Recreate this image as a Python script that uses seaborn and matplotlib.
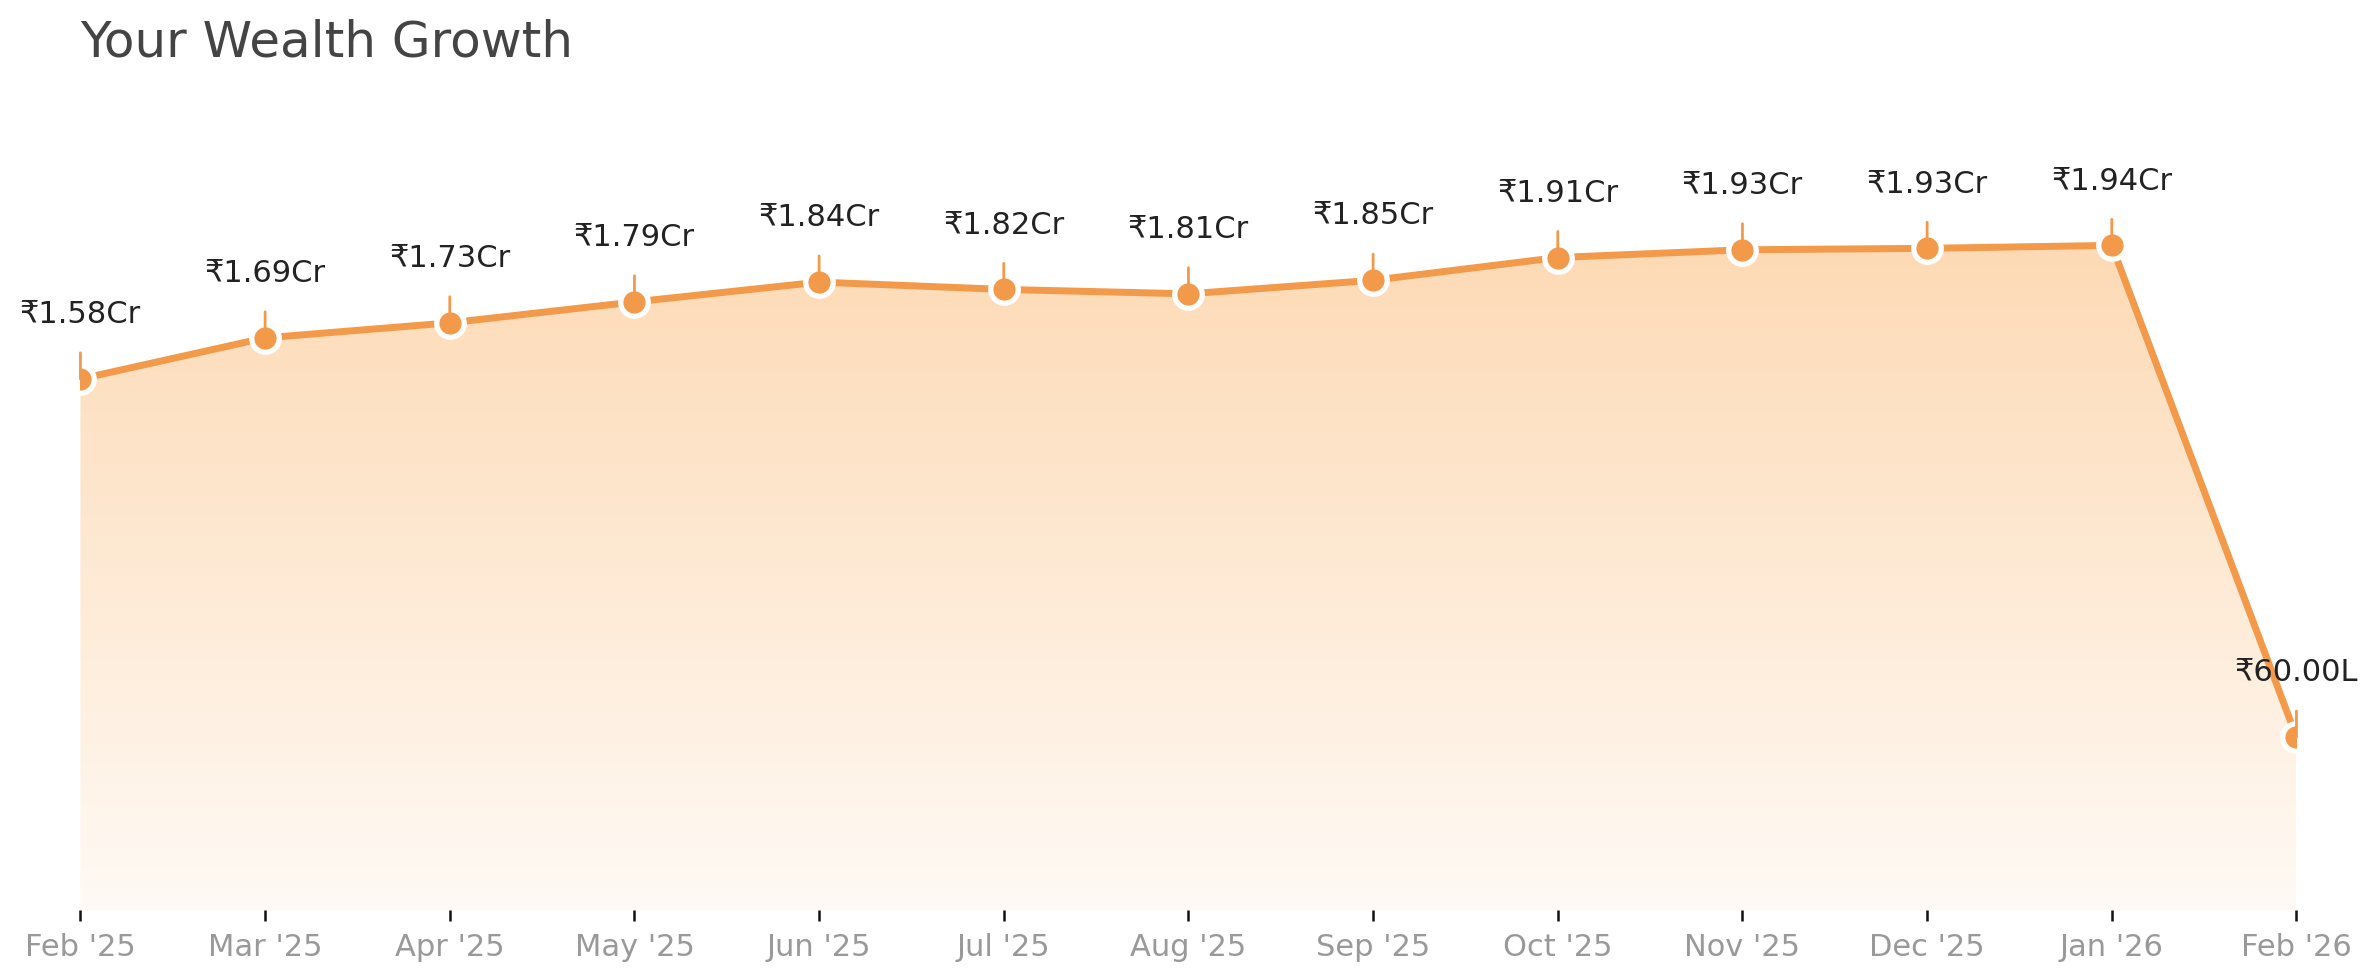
import numpy as np
import pandas as pd
import matplotlib
matplotlib.use("Agg")
import matplotlib.pyplot as plt
import seaborn as sns
from matplotlib.colors import to_rgb

months = ["Feb '25", "Mar '25", "Apr '25", "May '25", "Jun '25", "Jul '25", "Aug '25",
          "Sep '25", "Oct '25", "Nov '25", "Dec '25", "Jan '26", "Feb '26"]
values_cr = [1.576, 1.688, 1.729, 1.786, 1.840, 1.820, 1.808, 1.845, 1.907, 1.928, 1.932, 1.940, 0.600]
labels = ["₹1.58Cr", "₹1.69Cr", "₹1.73Cr", "₹1.79Cr", "₹1.84Cr", "₹1.82Cr", "₹1.81Cr",
          "₹1.85Cr", "₹1.91Cr", "₹1.93Cr", "₹1.93Cr", "₹1.94Cr", "₹60.00L"]

sns.set_theme(style="white")
plt.rcParams['font.family'] = ['DejaVu Sans']

ORANGE = "#F2994A"
TOP = "#FDDAB5"
BOTTOM = "#FFFAF5"

df = pd.DataFrame({"pos": np.arange(len(months)), "value": values_cr, "month": months})

fig = plt.figure(figsize=(11.9, 4.895), dpi=200)
ax = fig.add_axes([0.0338, 0.0695, 0.9311, 0.84])

ybot, ytop = 0.129, 2.37
ax.set_xlim(0, len(months) - 1)
ax.set_ylim(ybot, ytop)

# gradient fill under the line
poly = ax.fill_between(df["pos"], df["value"], ybot, color="none", lw=0)
ymax = max(values_cr)
n = 256
t = np.linspace(0, 1, n)[:, None]
c1 = np.array(to_rgb(TOP)); c2 = np.array(to_rgb(BOTTOM))
grad = (c1[None, None, :] * (1 - t[..., None]) + c2[None, None, :] * t[..., None])
grad = np.repeat(grad, 2, axis=1)
im = ax.imshow(grad, extent=[0, len(months) - 1, ybot, ymax], aspect="auto",
               origin="upper", zorder=1, interpolation="bilinear")
im.set_clip_path(poly.get_paths()[0], transform=ax.transData)
ax.set_xlim(0, len(months) - 1)
ax.set_ylim(ybot, ytop)

sns.lineplot(data=df, x="pos", y="value", ax=ax, color=ORANGE, lw=2.5,
             marker="o", markersize=9.9, markerfacecolor=ORANGE,
             markeredgecolor="white", markeredgewidth=1.9, zorder=3, clip_on=True)

# small stems above points
for i, v in enumerate(values_cr):
    ax.annotate("", xy=(i, v), xytext=(0, 9.4), textcoords="offset points",
                arrowprops=dict(arrowstyle="-", color=ORANGE, lw=1.0, shrinkA=0, shrinkB=0),
                zorder=4, annotation_clip=False)

for i, (v, lab) in enumerate(zip(values_cr, labels)):
    ax.annotate(lab, xy=(i, v), xytext=(0, 23.5), textcoords="offset points",
                ha="center", va="center", fontsize=11, color="#222222",
                annotation_clip=False, zorder=5)

ax.set_xticks(df["pos"])
ax.set_xticklabels(months)
ax.set_yticks([])
ax.set_xlabel("")
ax.set_ylabel("")
ax.tick_params(axis="x", bottom=True, length=3.8, width=0.9, color="#111111",
               labelsize=11, labelcolor="#999999", pad=4)
for s in ax.spines.values():
    s.set_visible(False)

fig.text(0.0338, 0.957, "Your Wealth Growth", fontsize=18, color="#444444",
         ha="left", va="center")

fig.savefig("out.png", dpi=200)
